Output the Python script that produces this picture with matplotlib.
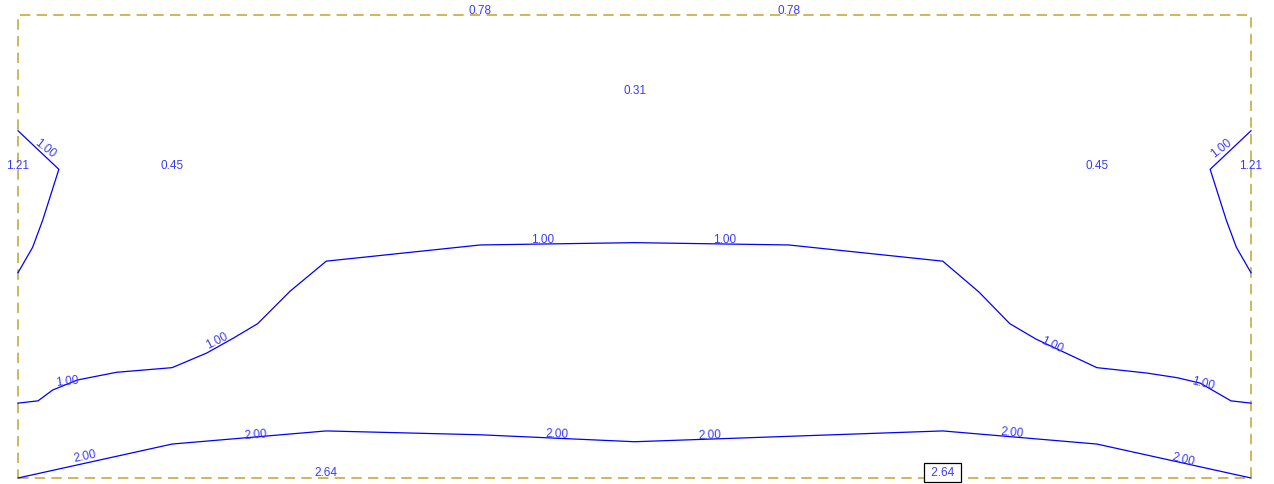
import matplotlib
matplotlib.use("Agg")
import matplotlib.pyplot as plt

plt.rcParams['font.family'] = ['Liberation Sans', 'DejaVu Sans']
plt.rcParams['lines.scale_dashes'] = False

# room outline (m)
room_w, room_d = 16.0, 6.0

iso_100_left_x = [0.0, 0.53, 0.32, 0.19, 0.0]
iso_100_left_y = [4.50, 4.00, 3.34, 2.99, 2.66]
iso_100_right_x = [16.0, 15.47, 15.68, 15.81, 16.0]
iso_100_right_y = [4.50, 4.00, 3.34, 2.99, 2.66]

iso_100_main_x = [0.0, 0.26, 0.45, 0.77, 1.28, 2.0, 2.45, 2.79, 3.11, 3.53, 4.0,
                  6.0, 8.0, 10.0, 12.0, 12.47, 12.87, 13.21, 14.0, 14.65, 15.04,
                  15.34, 15.74, 16.0]
iso_100_main_y = [0.97, 1.00, 1.14, 1.27, 1.37, 1.43, 1.62, 1.81, 2.00, 2.42, 2.81,
                  3.02, 3.05, 3.02, 2.81, 2.41, 2.00, 1.80, 1.43, 1.36, 1.30,
                  1.23, 1.00, 0.97]

iso_200_x = [0.0, 2.0, 4.0, 6.0, 8.0, 10.0, 12.0, 14.0, 16.0]
iso_200_y = [0.0, 0.44, 0.61, 0.56, 0.47, 0.54, 0.61, 0.44, 0.0]

# isoline labels: x, y, rotation
lbl_100_x = [0.35, 15.62, 6.81, 9.17, 2.58, 13.41, 0.64, 15.38]
lbl_100_y = [4.27, 4.27, 3.08, 3.08, 1.77, 1.72, 1.25, 1.22]
lbl_100_rot = [-38, 38, 0, 0, 27, -25, 6, -14]

lbl_200_x = [0.87, 3.09, 7.0, 8.98, 12.9, 15.12]
lbl_200_y = [0.27, 0.55, 0.56, 0.55, 0.58, 0.24]
lbl_200_rot = [12, 4, -2, 2, -5, -14]

# point values
pt_x = [6.0, 10.0, 8.0, 2.0, 14.0, 0.0, 16.0, 4.0]
pt_y = [6.05, 6.05, 5.02, 4.04, 4.04, 4.04, 4.04, 0.06]
pt_val = ["0.78", "0.78", "0.31", "0.45", "0.45", "1.21", "1.21", "2.64"]

# maximum value (boxed)
max_x, max_y, max_val = 12.0, 0.07, "2.64"

line_col = '#0000ff'
text_col = '#3a3aff'
wall_col = '#c9b34c'

fig = plt.figure(figsize=(12.74, 4.84), dpi=100)
ax = fig.add_axes([18 / 1274, 6 / 484, 1233 / 1274, 463 / 484])
ax.set_xlim(0, room_w)
ax.set_ylim(0, room_d)
ax.axis('off')

# room outline
ax.plot([0, room_w, room_w, 0, 0], [0, 0, room_d, room_d, 0],
        color=wall_col, lw=1.3, linestyle=(0, (7.5, 4.5)), clip_on=False, zorder=1)

for xs, ys in [(iso_100_left_x, iso_100_left_y), (iso_100_right_x, iso_100_right_y),
               (iso_100_main_x, iso_100_main_y), (iso_200_x, iso_200_y)]:
    ax.plot(xs, ys, color=line_col, lw=0.9, clip_on=False, zorder=2)

for x, y, r in zip(lbl_100_x, lbl_100_y, lbl_100_rot):
    ax.text(x, y, "1.00", rotation=r, rotation_mode='anchor', ha='center', va='center',
            color=text_col, fontsize=8.5, zorder=3)
for x, y, r in zip(lbl_200_x, lbl_200_y, lbl_200_rot):
    ax.text(x, y, "2.00", rotation=r, rotation_mode='anchor', ha='center', va='center',
            color=text_col, fontsize=8.5, zorder=3)

for x, y, v in zip(pt_x, pt_y, pt_val):
    ax.text(x, y, v, ha='center', va='center', color=text_col, fontsize=8.5, zorder=3)

ax.text(max_x, max_y, " " + max_val + " ", ha='center', va='center', color=text_col,
        fontsize=8.5, zorder=4,
        bbox=dict(boxstyle='square,pad=0.3', fc='white', ec='black', lw=0.9))

fig.savefig("out.png", dpi=100)
